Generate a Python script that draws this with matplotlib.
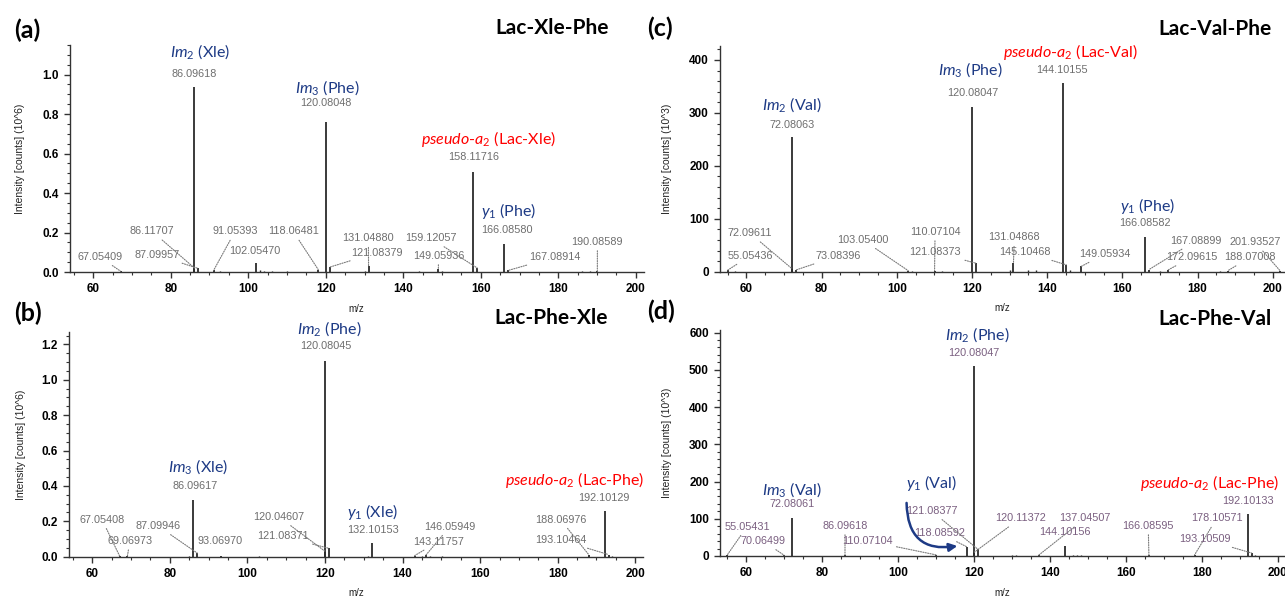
import matplotlib
matplotlib.use('Agg')
import matplotlib.pyplot as plt
from matplotlib.ticker import MultipleLocator, AutoMinorLocator, FormatStrFormatter
from matplotlib.patches import FancyArrowPatch

plt.rcParams['font.family'] = ['Liberation Sans', 'DejaVu Sans']
plt.rcParams['mathtext.fontset'] = 'custom'
plt.rcParams['mathtext.it'] = 'Lato:italic'
plt.rcParams['mathtext.rm'] = 'Lato'
plt.rcParams['mathtext.bf'] = 'Lato:bold'

# ---------------- data ----------------
# (a) Lac-Xle-Phe, intensity in 10^6 counts
mz_a = [67.05409, 86.09618, 86.11707, 87.09957, 91.05393, 102.05470, 118.06481,
        120.08048, 121.08379, 131.04880, 149.05936, 158.11716, 159.12057,
        166.08580, 167.08914, 190.08589]
int_a = [0.004, 0.936, 0.020, 0.018, 0.008, 0.044, 0.012,
         0.759, 0.025, 0.030, 0.015, 0.505, 0.020,
         0.143, 0.008, 0.003]
small_mz_a = [92.6, 103.1, 104.1, 106.0, 110.0, 130.1, 144.0, 150.1, 186.1, 188.1]
small_int_a = [0.006, 0.012, 0.006, 0.004, 0.003, 0.006, 0.004, 0.006, 0.004, 0.004]

# (b) Lac-Phe-Xle, intensity in 10^6 counts
mz_b = [67.05408, 69.06973, 86.09617, 87.09946, 93.06970, 120.04607, 120.08045,
        121.08371, 132.10153, 143.11757, 146.05949, 188.06976, 192.10129, 193.10464]
int_b = [0.004, 0.004, 0.320, 0.020, 0.006, 0.030, 1.106,
         0.047, 0.079, 0.006, 0.010, 0.010, 0.258, 0.012]
small_mz_b = [85.0, 103.1, 131.1, 145.0, 147.0, 150.1, 194.1]
small_int_b = [0.005, 0.004, 0.006, 0.004, 0.004, 0.003, 0.004]

# (c) Lac-Val-Phe, intensity in 10^3 counts
mz_c = [55.05436, 72.08063, 72.09611, 73.08396, 103.05400, 110.07104, 120.08047,
        121.08373, 131.04868, 144.10155, 145.10468, 149.05934, 166.08582,
        167.08899, 172.09615, 188.07008, 201.93527]
int_c = [3, 255, 6, 3, 2, 2, 312,
         16, 17, 357, 13, 10, 65,
         4, 3, 2, 2]
small_mz_c = [57.1, 104.1, 112.1, 130.1, 135.0, 137.1, 146.1, 170.1, 186.1]
small_int_c = [2, 2, 1, 3, 4, 3, 4, 2, 2]

# (d) Lac-Phe-Val, intensity in 10^3 counts
mz_d = [55.05431, 70.06499, 72.08061, 86.09618, 110.07104, 118.08592, 120.08047,
        120.11372, 121.08377, 137.04507, 144.10156, 166.08595, 178.10571,
        192.10133, 193.10509]
int_d = [2, 2, 101, 3, 3, 25, 509,
         10, 18, 2, 27, 2, 3,
         112, 8]
small_mz_d = [57.1, 98.1, 130.1, 131.1, 146.1, 147.1, 148.1, 194.1]
small_int_d = [1, 1, 2, 2, 2, 2, 2, 2]

# ion-assignment labels: (text, colour key)
ions_a = [(r'$\mathit{Im}_{\mathit{2}}$ (Xle)', 'blue'), (r'$\mathit{Im}_{\mathit{3}}$ (Phe)', 'blue'),
          (r'$\mathit{pseudo}$-$\mathit{a}_{\mathit{2}}$ (Lac-Xle)', 'red'),
          (r'$\mathit{y}_{\mathit{1}}$ (Phe)', 'blue')]
ions_b = [(r'$\mathit{Im}_{\mathit{3}}$ (Xle)', 'blue'), (r'$\mathit{Im}_{\mathit{2}}$ (Phe)', 'blue'),
          (r'$\mathit{y}_{\mathit{1}}$ (Xle)', 'blue'),
          (r'$\mathit{pseudo}$-$\mathit{a}_{\mathit{2}}$ (Lac-Phe)', 'red')]
ions_c = [(r'$\mathit{Im}_{\mathit{2}}$ (Val)', 'blue'), (r'$\mathit{Im}_{\mathit{3}}$ (Phe)', 'blue'),
          (r'$\mathit{pseudo}$-$\mathit{a}_{\mathit{2}}$ (Lac-Val)', 'red'),
          (r'$\mathit{y}_{\mathit{1}}$ (Phe)', 'blue')]
ions_d = [(r'$\mathit{Im}_{\mathit{3}}$ (Val)', 'blue'), (r'$\mathit{Im}_{\mathit{2}}$ (Phe)', 'blue'),
          (r'$\mathit{y}_{\mathit{1}}$ (Val)', 'blue'),
          (r'$\mathit{pseudo}$-$\mathit{a}_{\mathit{2}}$ (Lac-Phe)', 'red')]

titles = ['Lac-Xle-Phe', 'Lac-Phe-Xle', 'Lac-Val-Phe', 'Lac-Phe-Val']
panel_tags = ['(a)', '(b)', '(c)', '(d)']
ylabels = ['Intensity [counts] (10^6)', 'Intensity [counts] (10^6)',
           'Intensity [counts] (10^3)', 'Intensity [counts] (10^3)']
xlabel = 'm/z'

# ---------------- layout (label placement, data coords) ----------------
# (x, y, draw leader line)
lab_a = [(61.7, 0.076, True), (86.1, 1.003, False), (75.2, 0.206, True), (76.4, 0.086, True),
         (96.6, 0.206, True), (101.7, 0.108, False), (111.6, 0.206, True),
         (120.1, 0.857, False), (133.1, 0.098, True), (131.0, 0.171, True),
         (149.1, 0.083, True), (158.2, 0.584, False), (147.1, 0.171, True),
         (166.8, 0.213, False), (179.2, 0.076, True), (190.1, 0.154, True)]
lab_b = [(62.5, 0.21, True), (69.7, 0.09, True), (86.6, 0.40, False), (77.0, 0.173, True),
         (92.9, 0.09, False), (108.2, 0.224, True), (120.1, 1.19, False),
         (109.1, 0.115, True), (132.4, 0.151, False), (149.2, 0.085, True),
         (152.2, 0.17, True), (180.7, 0.21, True), (191.9, 0.333, False), (180.7, 0.094, True)]
lab_c = [(61.0, 30, True), (72.1, 277, False), (61.0, 72.6, True), (84.5, 30, True),
         (91.0, 60, True), (110.2, 75.6, True), (120.1, 337, False),
         (110.2, 36.7, True), (131.3, 65, True), (144.0, 381, False), (134.1, 36.7, True),
         (155.4, 33.5, True), (166.0, 91.5, False),
         (179.5, 58.6, True), (178.4, 27, True), (194.0, 27, True), (195.3, 55.6, True)]
lab_d = [(60.3, 79, True), (64.6, 40, True), (72.1, 140, False), (86.1, 81.5, True),
         (91.9, 41, True), (111.1, 61, True), (120.1, 545, False),
         (132.2, 101, True), (108.9, 121, True), (149.3, 101, True), (144.0, 64, False),
         (165.9, 81.5, True), (183.9, 101, True),
         (192.1, 148, False), (180.7, 45, True)]
ionpos_a = [(87.5, 1.117), (120.5, 0.935), (161.9, 0.672), (167.2, 0.311)]
ionpos_b = [(87.3, 0.51), (121.0, 1.29), (132.2, 0.254), (184.3, 0.433)]
ionpos_c = [(72.1, 315), (119.5, 381), (146.1, 416), (166.8, 124)]
ionpos_d = [(72.1, 179), (120.8, 594), (108.9, 195), (182.0, 195)]
titlepos = [(178.3, 1.236), (178.4, 1.347), (184.6, 458), (183.5, 636)]

NAVY = '#1d3a85'
RED = '#ff0000'
PEAK = '#2b2b2b'
GRAY = '#6e6e6e'
PURPLE = '#7a5f80'
LEAD = '#7a7a7a'

fig = plt.figure(figsize=(12.85, 5.97), dpi=100)
W, H = 1285.0, 597.0


def add_axes(l, r, t, b):
    return fig.add_axes([l / W, 1 - b / H, (r - l) / W, (b - t) / H])


axs = [add_axes(70, 643.5, 45, 272), add_axes(69, 643, 332, 556.7),
       add_axes(720, 1284, 45.7, 271.7), add_axes(720, 1285, 330, 556)]
xlims = [(54, 202), (54, 202), (53, 203), (53.2, 201.9)]
ylims = [(0, 1.15), (0, 1.27), (0, 427), (0, 607)]
ysteps = [0.2, 0.2, 100, 100]
yminor = [4, 4, 5, 5]
yfmt = ['%.1f', '%.1f', '%d', '%d']
ylabx = [-0.078, -0.075, -0.085, -0.085]
xlaby = [-0.140, -0.140, -0.140, -0.140]
tagpos = [(27.5, 30), (27.5, 313), (660, 28), (661, 311)]

data = [(mz_a, int_a, small_mz_a, small_int_a, lab_a, ions_a, ionpos_a, GRAY),
        (mz_b, int_b, small_mz_b, small_int_b, lab_b, ions_b, ionpos_b, GRAY),
        (mz_c, int_c, small_mz_c, small_int_c, lab_c, ions_c, ionpos_c, GRAY),
        (mz_d, int_d, small_mz_d, small_int_d, lab_d, ions_d, ionpos_d, PURPLE)]

for i, ax in enumerate(axs):
    mz, it, smz, sit, labs, ions, ipos, vcol = data[i]
    ax.vlines(mz, 0, it, color=PEAK, lw=1.3, zorder=3)
    ax.vlines(smz, 0, sit, color=PEAK, lw=1.0, zorder=3)
    for m, h, (tx, ty, lead) in zip(mz, it, labs):
        if lead:
            ax.annotate(f'{m:.5f}', xy=(m, h), xytext=(tx, ty), ha='center', va='center',
                        fontsize=7.8, color=vcol, annotation_clip=False,
                        arrowprops=dict(arrowstyle='-', linestyle=(0, (1, 1.2)), color=LEAD,
                                        lw=0.8, shrinkA=1, shrinkB=0))
        else:
            ax.text(tx, ty, f'{m:.5f}', ha='center', va='center', fontsize=7.8, color=vcol)
    for (s, c), (x, y) in zip(ions, ipos):
        ax.text(x, y, s, ha='center', va='center', fontsize=11.5, family='Lato',
                color=NAVY if c == 'blue' else RED, clip_on=False)
    tx, ty = titlepos[i]
    ax.text(tx, ty, titles[i], ha='center', va='center', fontsize=15, family='Lato',
            fontweight='bold', color='black', clip_on=False)

    ax.set_xlim(*xlims[i])
    ax.set_ylim(*ylims[i])
    ax.xaxis.set_major_locator(MultipleLocator(20))
    ax.xaxis.set_minor_locator(MultipleLocator(5))
    ax.yaxis.set_major_locator(MultipleLocator(ysteps[i]))
    ax.yaxis.set_minor_locator(AutoMinorLocator(yminor[i]))
    ax.yaxis.set_major_formatter(FormatStrFormatter(yfmt[i]))
    for sp in ('top', 'right'):
        ax.spines[sp].set_visible(False)
    for sp in ('left', 'bottom'):
        ax.spines[sp].set_color('#333333')
        ax.spines[sp].set_linewidth(1.0)
    ax.tick_params(which='major', direction='out', length=4, width=1.0, color='#333333',
                   labelsize=8.5, pad=4)
    ax.tick_params(which='minor', direction='out', length=2.5, width=0.8, color='#333333')
    for lab in ax.get_xticklabels() + ax.get_yticklabels():
        lab.set_fontweight('bold')
    ax.set_ylabel(ylabels[i], fontsize=7.5, color='#222222')
    ax.yaxis.set_label_coords(ylabx[i], 0.5)
    ax.set_xlabel(xlabel, fontsize=7, color='#222222')
    ax.xaxis.set_label_coords(0.5, xlaby[i])

    px, py = tagpos[i]
    fig.text(px / W, 1 - py / H, panel_tags[i], ha='center', va='center', fontsize=18,
             family='Lato', fontweight='bold')

# curved arrow in (d)
arr = FancyArrowPatch((102.3, 150), (116.4, 28), connectionstyle='arc3,rad=0.6',
                      arrowstyle='-|>', mutation_scale=12, lw=1.8, color=NAVY, zorder=5)
axs[3].add_patch(arr)

fig.savefig('out.png', dpi=100)
